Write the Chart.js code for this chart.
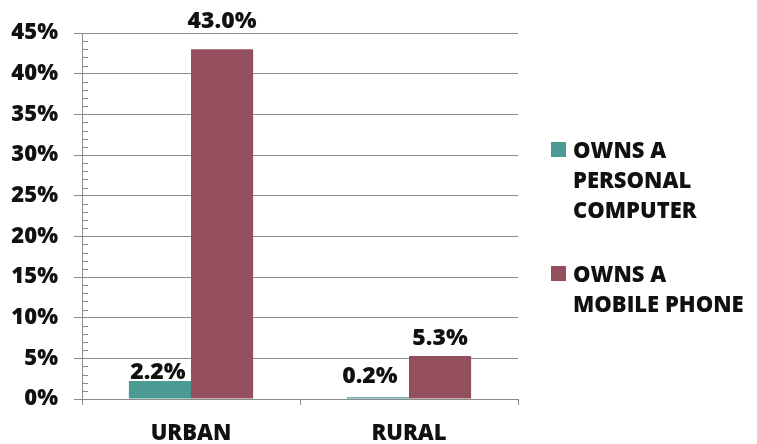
<!DOCTYPE html>
<html>
<head>
<meta charset="utf-8">
<script src="https://cdn.jsdelivr.net/npm/chart.js@4"></script>
<style>
  html, body { margin: 0; padding: 0; background: #fff; }
  #wrap { position: relative; width: 757px; height: 444px; }
  #legend { position: absolute; left: 551px; top: 134px; font-family: "Open Sans", sans-serif; font-weight: 800; font-size: 22px; color: #111; }
  .item { position: relative; padding-left: 22px; line-height: 30px; margin-bottom: 34px; }
  .swatch { position: absolute; left: 0; top: 8px; width: 15px; height: 15px; }
</style>
</head>
<body>
<div id="wrap">
  <canvas id="chart" width="757" height="444"></canvas>
  <div id="legend"></div>
</div>
<script>
const categories = ["URBAN", "RURAL"];
const seriesNames = ["OWNS A PERSONAL COMPUTER", "OWNS A MOBILE PHONE"];
const legendLines = [["OWNS A", "PERSONAL", "COMPUTER"], ["OWNS A", "MOBILE PHONE"]];
const ownsComputer = [2.2, 0.2];
const ownsPhone = [43.0, 5.3];
const yTicks = [0, 5, 10, 15, 20, 25, 30, 35, 40, 45];

const colors = ["#4b9a94", "#944f5e"];
const gridGray = "#8c8c8c";
const fontFamily = '"Open Sans", sans-serif';

// label nudges (px up from bar top, px sideways), per series per category
const labelLift = [[2, 14], [21, 11]];
const labelShift = [[-2, -8], [0, 0]];

const barLabels = {
  id: 'barLabels',
  afterDatasetsDraw(chart) {
    const ctx = chart.ctx;
    ctx.save();
    ctx.font = '800 23px ' + fontFamily;
    ctx.fillStyle = '#111';
    ctx.textAlign = 'center';
    ctx.textBaseline = 'alphabetic';
    chart.data.datasets.forEach((ds, i) => {
      chart.getDatasetMeta(i).data.forEach((bar, j) => {
        ctx.fillText(ds.data[j].toFixed(1) + '%', bar.x + labelShift[i][j], bar.y - labelLift[i][j]);
      });
    });
    ctx.restore();
  }
};

const minorTicks = {
  id: 'minorTicks',
  beforeDatasetsDraw(chart) {
    const y = chart.scales.y;
    const left = chart.chartArea.left;
    const ctx = chart.ctx;
    ctx.save();
    ctx.strokeStyle = gridGray;
    ctx.lineWidth = 1;
    for (let v = y.min; v <= y.max; v += 1) {
      if (v % 5 === 0) continue;
      const py = Math.round(y.getPixelForValue(v)) + 0.5;
      ctx.beginPath();
      ctx.moveTo(left, py);
      ctx.lineTo(left + 6, py);
      ctx.stroke();
    }
    ctx.restore();
  }
};

new Chart(document.getElementById('chart'), {
  type: 'bar',
  data: {
    labels: categories,
    datasets: [
      { label: seriesNames[0], data: ownsComputer, backgroundColor: colors[0] },
      { label: seriesNames[1], data: ownsPhone, backgroundColor: colors[1] }
    ]
  },
  options: {
    responsive: false,
    animation: false,
    layout: { padding: { top: 33, right: 239, left: 0, bottom: 0 } },
    datasets: { bar: { barPercentage: 1, categoryPercentage: 0.57 } },
    plugins: {
      legend: { display: false },
      tooltip: { enabled: false }
    },
    scales: {
      x: {
        grid: { display: true, drawOnChartArea: false, drawTicks: true, tickLength: 6, color: gridGray, offset: true },
        border: { color: gridGray, width: 1 },
        ticks: { color: '#111', font: { family: fontFamily, size: 22, weight: 800 }, padding: 16 },
        afterFit(scale) { scale.height = 45; }
      },
      y: {
        min: 0,
        max: 45,
        afterBuildTicks(scale) { scale.ticks = yTicks.map(v => ({ value: v })); },
        grid: { color: gridGray, tickLength: 8, drawTicks: true },
        border: { color: gridGray, width: 1 },
        ticks: {
          color: '#111',
          font: { family: fontFamily, size: 22, weight: 800 },
          padding: 16,
          callback: v => v + '%'
        },
        afterFit(scale) { scale.width = 82; }
      }
    }
  },
  plugins: [minorTicks, barLabels]
});

const legend = document.getElementById('legend');
legendLines.forEach((lines, i) => {
  const item = document.createElement('div');
  item.className = 'item';
  item.innerHTML = '<span class="swatch" style="background:' + colors[i] + '"></span>' + lines.join('<br>');
  legend.appendChild(item);
});
</script>
</body>
</html>
